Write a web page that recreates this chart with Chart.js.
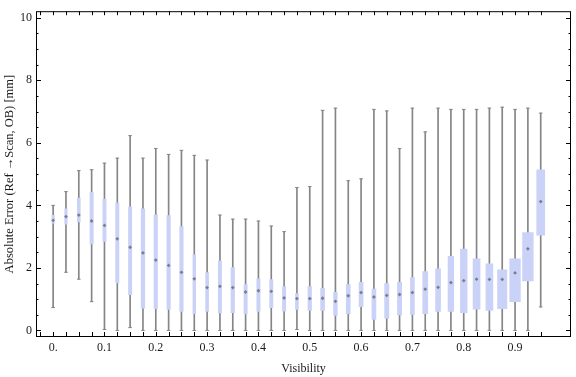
<!DOCTYPE html>
<html>
<head>
<meta charset="utf-8">
<script src="https://cdn.jsdelivr.net/npm/chart.js@4/dist/chart.umd.min.js"></script>
<style>
  html, body { margin: 0; padding: 0; background: #fff; }
  #wrap { width: 576px; height: 377px; position: relative; }
</style>
</head>
<body>
<div id="wrap"><canvas id="boxChart"></canvas></div>
<script>
// visibility bins (box positions)
const visibility = [0, 0.025, 0.05, 0.075, 0.1, 0.125, 0.15, 0.175, 0.2, 0.225,
  0.25, 0.275, 0.3, 0.325, 0.35, 0.375, 0.4, 0.425, 0.45, 0.475,
  0.5, 0.525, 0.55, 0.575, 0.6, 0.625, 0.65, 0.675, 0.7, 0.725,
  0.75, 0.775, 0.8, 0.825, 0.85, 0.875, 0.9, 0.925, 0.95];

// absolute error stats [mm]
const minVals = [0.73, 1.86, 1.64, 0.92, 0.03, 0.00, 0.09, 0.00, 0.00, 0.00,
  0.00, 0.00, 0.00, 0.00, 0.00, 0.00, 0.00, 0.00, 0.00, 0.03,
  0.00, 0.00, 0.00, 0.00, 0.00, 0.00, 0.00, 0.00, 0.00, 0.00,
  0.00, 0.00, 0.00, 0.00, 0.00, 0.00, 0.00, 0.00, 0.75];
const q1Vals = [3.43, 3.40, 3.47, 2.77, 2.85, 1.52, 1.14, 0.71, 0.70, 0.67,
  0.61, 0.54, 0.61, 0.56, 0.57, 0.53, 0.61, 0.73, 0.62, 0.67,
  0.64, 0.64, 0.48, 0.54, 0.76, 0.35, 0.39, 0.50, 0.51, 0.54,
  0.61, 0.61, 0.57, 0.68, 0.64, 0.70, 0.92, 1.58, 3.05];
const medianVals = [3.52, 3.64, 3.69, 3.50, 3.36, 2.93, 2.66, 2.48, 2.25, 2.08,
  1.86, 1.65, 1.37, 1.41, 1.37, 1.23, 1.27, 1.25, 1.04, 1.02,
  1.02, 1.03, 0.93, 1.11, 1.21, 1.07, 1.12, 1.15, 1.21, 1.32,
  1.38, 1.53, 1.59, 1.64, 1.63, 1.63, 1.84, 2.61, 4.12];
const q3Vals = [3.68, 3.89, 4.23, 4.42, 4.20, 4.08, 3.95, 3.89, 3.70, 3.67,
  3.32, 2.42, 1.85, 2.23, 2.01, 1.47, 1.65, 1.63, 1.40, 1.18,
  1.40, 1.35, 1.22, 1.47, 1.54, 1.32, 1.50, 1.54, 1.69, 1.88,
  1.97, 2.37, 2.60, 2.29, 2.13, 1.94, 2.29, 3.13, 5.14];
const maxVals = [4.00, 4.44, 5.11, 5.14, 5.35, 5.51, 6.23, 5.51, 5.82, 5.63,
  5.76, 5.60, 5.45, 3.69, 3.56, 3.56, 3.50, 3.34, 3.16, 4.57,
  4.60, 7.04, 7.11, 4.79, 4.85, 7.07, 7.02, 5.82, 7.11, 6.35,
  7.11, 7.07, 7.07, 7.07, 7.11, 7.14, 7.07, 7.11, 6.95];

// ticks
const xTickValues = [0, 0.1, 0.2, 0.3, 0.4, 0.5, 0.6, 0.7, 0.8, 0.9];
const xTickLabels = ['0.', '0.1', '0.2', '0.3', '0.4', '0.5', '0.6', '0.7', '0.8', '0.9'];
const yTickValues = [0, 2, 4, 6, 8, 10];
const yTickLabels = ['0', '2', '4', '6', '8', '10'];

// styling
const boxWidthPx = [2.5, 2.5, 3, 3.3, 3.3, 3.3, 3.3, 3.6, 3.5, 3.5,
  3.5, 2.8, 3, 3.3, 3.6, 3.3, 3.3, 3.3, 3.3, 3,
  3.6, 4, 3.7, 4, 4, 4, 4.3, 4.3, 4, 5,
  5, 5.7, 6.7, 7, 7, 9.3, 10.7, 10.7, 8];
const boxColor = '#cbd2f7';
const whiskerColor = '#858585';
const textColor = '#1a1a1a';
const serif = 'Liberation Serif';

const boxDatasets = visibility.map((v, i) => ({
  type: 'bar',
  data: [{ x: v, y: [q1Vals[i], q3Vals[i]] }],
  backgroundColor: boxColor,
  barThickness: boxWidthPx[i],
  grouped: false,
  order: 2
}));

const frameTicks = {
  id: 'frameTicks',
  afterDraw(chart) {
    const { ctx, chartArea: a, scales: { x, y } } = chart;
    ctx.save();
    ctx.strokeStyle = '#000';
    ctx.lineWidth = 1;
    ctx.beginPath();
    [-0.025, ...visibility].forEach(v => {
      const px = Math.round(x.getPixelForValue(v)) + 0.5;
      ctx.moveTo(px, a.bottom); ctx.lineTo(px, a.bottom - 5);
      ctx.moveTo(px, a.top); ctx.lineTo(px, a.top + 4);
    });
    for (let v = 0; v <= 10; v += 0.5) {
      const py = Math.round(y.getPixelForValue(v)) + 0.5;
      const len = yTickValues.includes(v) ? 5 : 2.5;
      ctx.moveTo(a.left, py); ctx.lineTo(a.left + len, py);
      ctx.moveTo(a.right, py); ctx.lineTo(a.right - len, py);
    }
    ctx.stroke();
    ctx.strokeRect(a.left + 0.5, a.top + 0.5, a.right - a.left - 1, a.bottom - a.top - 1);
    ctx.restore();
  }
};

new Chart(document.getElementById('boxChart'), {
  type: 'bar',
  data: {
    datasets: [
      {
        type: 'scatter',
        data: visibility.flatMap((v, i) => [{ x: v, y: minVals[i] }, { x: v, y: maxVals[i] }]),
        pointStyle: 'line',
        pointRadius: 1.8,
        borderColor: whiskerColor,
        borderWidth: 1,
        order: 0
      },
      {
        type: 'scatter',
        data: visibility.map((v, i) => ({ x: v, y: medianVals[i] })),
        pointStyle: 'rectRot',
        pointRadius: 1.9,
        backgroundColor: 'rgba(110,110,120,0.85)',
        borderWidth: 0,
        order: 1
      },
      ...boxDatasets,
      {
        type: 'bar',
        data: visibility.map((v, i) => ({ x: v, y: [minVals[i], maxVals[i]] })),
        backgroundColor: whiskerColor,
        barThickness: 1,
        grouped: false,
        order: 3
      }
    ]
  },
  options: {
    responsive: true,
    maintainAspectRatio: false,
    animation: false,
    layout: { padding: { top: 4, right: 0, left: 0, bottom: 0 } },
    plugins: { legend: { display: false }, tooltip: { enabled: false } },
    scales: {
      x: {
        type: 'linear',
        min: -0.0334,
        max: 1.009,
        offset: false,
        grid: { display: false, drawTicks: false },
        border: { display: false },
        afterBuildTicks: s => { s.ticks = xTickValues.map(v => ({ value: v })); },
        afterFit: s => { s.height = 40; },
        ticks: {
          autoSkip: false,
          maxRotation: 0,
          padding: 4,
          color: textColor,
          font: { family: serif, size: 12 },
          callback: (v, i) => xTickLabels[i]
        },
        title: {
          display: true,
          text: 'Visibility',
          color: textColor,
          font: { family: serif, size: 12 },
          padding: { top: 0, bottom: 1 }
        }
      },
      y: {
        min: -0.21,
        max: 10.21,
        grid: { display: false, drawTicks: false },
        border: { display: false },
        afterBuildTicks: s => { s.ticks = yTickValues.map(v => ({ value: v })); },
        afterFit: s => { s.width = 36; },
        ticks: {
          padding: 4,
          color: textColor,
          font: { family: serif, size: 12 },
          callback: (v, i) => yTickLabels[i]
        },
        title: {
          display: true,
          text: 'Absolute Error (Ref \u2192Scan, OB) [mm]',
          color: textColor,
          font: { family: serif, size: 12.5 },
          padding: { top: 2, bottom: 0 }
        }
      }
    }
  },
  plugins: [frameTicks]
});
</script>
</body>
</html>
